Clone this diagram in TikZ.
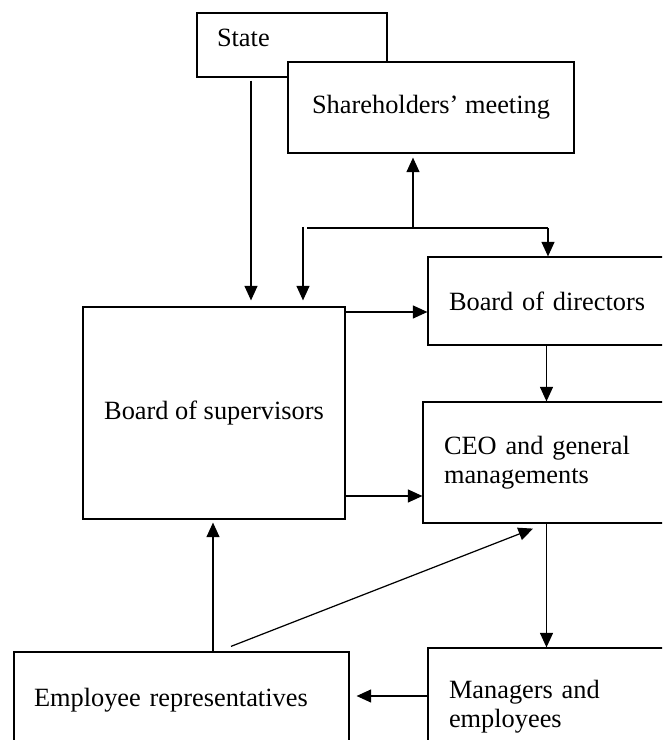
\documentclass[tikz,border=0pt]{standalone}
\usepackage{fontspec}
\setmainfont{Liberation Serif}
\usepackage{tikz}
\usetikzlibrary{arrows.meta}

\begin{document}
\begin{tikzpicture}[>={Triangle[length=0.29cm,width=0.26cm]}, line width=0.7pt,
    every node/.style={font=\fontsize{15}{16.5}\selectfont},
    box/.style={draw, fill=white, inner ysep=0pt, align=center},
    lbox/.style={draw, fill=white, inner ysep=0pt, align=left}]
        \useasboundingbox (0,0) rectangle (13.24,14.8);
        \clip (0,0) rectangle (13.24,14.8);

        % boxes
        \node[lbox, text width=3.0cm, inner xsep=0.4cm, minimum height=1.28cm, text depth=0.3cm] (state) at (5.84,13.9) {State};
        \node[box, minimum width=5.72cm, minimum height=1.82cm] (share) at (8.62,12.65) {Shareholders’ meeting};
        \node[box, minimum width=5.24cm, minimum height=4.24cm] (sup) at (4.28,6.54) {Board of supervisors};
        \node[lbox, text width=4.6cm, inner xsep=0.42cm, minimum height=1.76cm] (dir) at (11.28,8.78) {Board of directors};
        \node[lbox, text width=4.7cm, inner xsep=0.42cm, minimum height=2.42cm] (ceo) at (11.23,5.55) {CEO and general\\managements};
        \node[lbox, text width=4.6cm, inner xsep=0.42cm, minimum height=2.36cm] (mgr) at (11.28,0.66) {Managers and\\employees};
        \node[lbox, text width=5.9cm, inner xsep=0.4cm, minimum height=1.92cm] (emp) at (3.63,0.80) {Employee representatives};

        % bend points
        \coordinate (stx) at (5.02,0);
        \coordinate (split) at (8.26,10.24);
        \coordinate (lend) at (6.14,10.24);
        \coordinate (rend) at (10.96,10.24);
        \coordinate (ltop) at (6.06,10.26);
        \coordinate (h1) at (0,8.56);
        \coordinate (h2) at (0,4.88);
        \coordinate (h3) at (0,0.88);
        \coordinate (v1) at (10.93,0);
        \coordinate (v2) at (4.26,0);

        % arrows
        \draw[->, shorten <=0.06cm, shorten >=0.12cm] (state.south -| stx) -- (sup.north -| stx);
        \draw (lend) -- (rend);
        \draw[->, shorten >=0.08cm] (split) -- (share.south -| split);
        \draw[->] (rend) -- (dir.north -| rend);
        \draw[->, shorten >=0.12cm] (ltop) -- (sup.north -| ltop);
        \draw[->] (sup.east |- h1) -- (dir.west |- h1);
        \draw[->] (sup.east |- h2) -- (ceo.west |- h2);
        \draw[->] (dir.south -| v1) -- (ceo.north -| v1);
        \draw[->] (ceo.south -| v1) -- (mgr.north -| v1);
        \draw[->, shorten >=0.14cm] (mgr.west |- h3) -- (emp.east |- h3);
        \draw[->, shorten >=0.06cm] (emp.north -| v2) -- (sup.south -| v2);
        \draw[->] ([xshift=0.99cm,yshift=0.1cm]emp.north) -- ([xshift=-0.57cm,yshift=-0.1cm]ceo.south);
    \end{tikzpicture}
\end{document}
